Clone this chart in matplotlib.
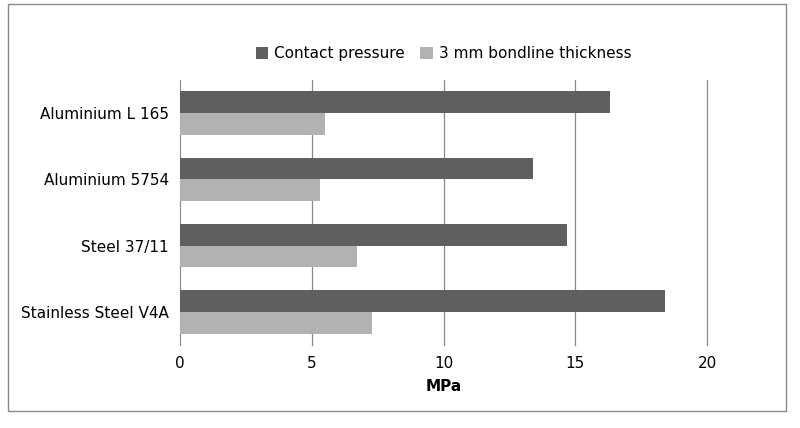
import matplotlib
matplotlib.use("Agg")
import matplotlib.pyplot as plt
from matplotlib.patches import Rectangle
import numpy as np

categories = ["Aluminium L 165", "Aluminium 5754", "Steel 37/11", "Stainless Steel V4A"]
contact = [16.3, 13.4, 14.7, 18.4]
bondline = [5.5, 5.3, 6.7, 7.3]
xticks = [0, 5, 10, 15, 20]

plt.rcParams["font.family"] = "DejaVu Sans"
fig = plt.figure(figsize=(8, 4.28), dpi=100)
fig.patches.append(Rectangle((0.01, 0.04), 0.972, 0.95, transform=fig.transFigure,
                             fill=False, edgecolor="#888888", lw=1))
ax = fig.add_axes([0.225, 0.194, 0.659, 0.619])
y = np.arange(len(categories))[::-1].astype(float)
h = 0.33
ax.barh(y + h/2, contact, height=h, color="#5f5f5f", label="Contact pressure", zorder=3)
ax.barh(y - h/2, bondline, height=h, color="#b2b2b2", label="3 mm bondline thickness", zorder=3)
ax.set_xlim(0, 20)
ax.set_ylim(-0.5, 3.5)
ax.set_xticks(xticks)
ax.set_xticklabels([str(t) for t in xticks], fontsize=11)
ax.set_yticks(y)
ax.set_yticklabels(categories, fontsize=11)
ax.tick_params(length=0, pad=8)
for t in xticks[1:]:
    ax.axvline(t, color="#888888", lw=0.9, zorder=0, clip_on=False)
for s in ["top", "right", "bottom"]:
    ax.spines[s].set_visible(False)
ax.spines["left"].set_color("#888888")
ax.set_xlabel("MPa", fontsize=11, fontweight="bold", labelpad=6)
ax.legend(loc="lower center", bbox_to_anchor=(0.5, 1.02), ncol=2, frameon=False,
          fontsize=11, handlelength=0.8, handleheight=0.8, columnspacing=1.0, handletextpad=0.4)
fig.savefig("out.png", dpi=100)
